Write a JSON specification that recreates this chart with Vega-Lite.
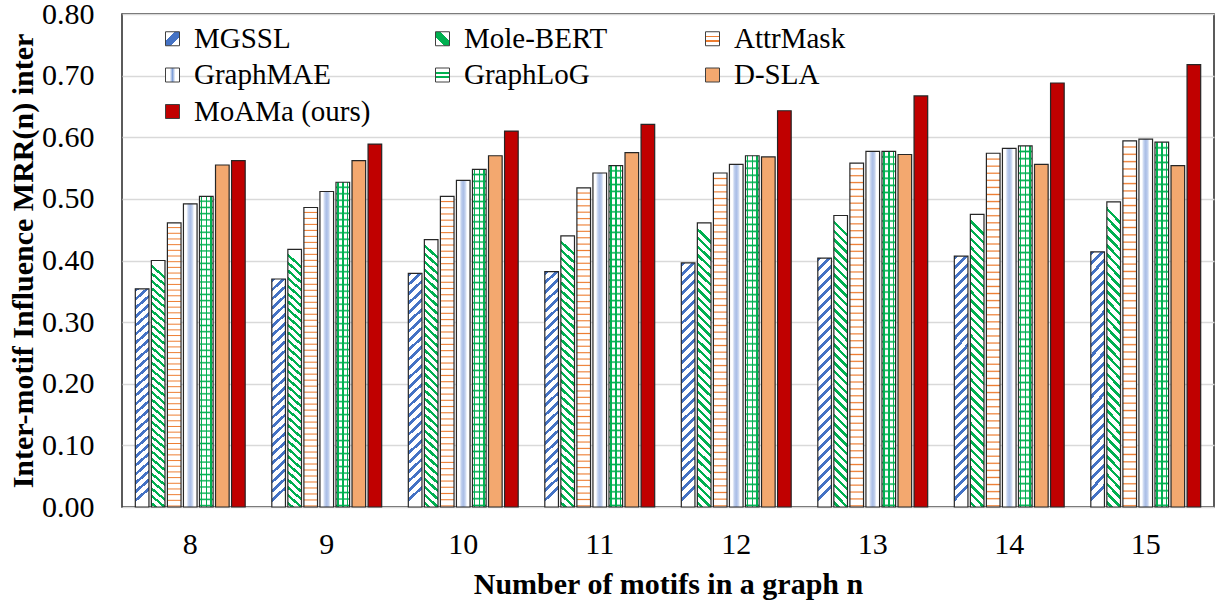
{
  "$schema": "https://vega.github.io/schema/vega-lite/v6.json",
  "width": 1092,
  "height": 493,
  "autosize": {"type": "none"},
  "padding": {"left": 122, "top": 14, "right": 5, "bottom": 96},
  "background": "white",
  "config": {
    "font": "Liberation Serif",
    "view": {"stroke": "#262626", "strokeWidth": 1.5},
    "axis": {"labelColor": "#000", "titleColor": "#000", "labelFont": "Liberation Serif", "titleFont": "Liberation Serif"},
    "legend": {"labelFont": "Liberation Serif", "titleFont": "Liberation Serif"}
  },
  "data": {"values": [
    {"n": 8, "method": "MGSSL", "v": 0.354}, {"n": 8, "method": "Mole-BERT", "v": 0.400}, {"n": 8, "method": "AttrMask", "v": 0.461}, {"n": 8, "method": "GraphMAE", "v": 0.492}, {"n": 8, "method": "GraphLoG", "v": 0.504}, {"n": 8, "method": "D-SLA", "v": 0.555}, {"n": 8, "method": "MoAMa (ours)", "v": 0.562},
    {"n": 9, "method": "MGSSL", "v": 0.370}, {"n": 9, "method": "Mole-BERT", "v": 0.418}, {"n": 9, "method": "AttrMask", "v": 0.486}, {"n": 9, "method": "GraphMAE", "v": 0.512}, {"n": 9, "method": "GraphLoG", "v": 0.527}, {"n": 9, "method": "D-SLA", "v": 0.562}, {"n": 9, "method": "MoAMa (ours)", "v": 0.589},
    {"n": 10, "method": "MGSSL", "v": 0.379}, {"n": 10, "method": "Mole-BERT", "v": 0.434}, {"n": 10, "method": "AttrMask", "v": 0.504}, {"n": 10, "method": "GraphMAE", "v": 0.530}, {"n": 10, "method": "GraphLoG", "v": 0.548}, {"n": 10, "method": "D-SLA", "v": 0.570}, {"n": 10, "method": "MoAMa (ours)", "v": 0.610},
    {"n": 11, "method": "MGSSL", "v": 0.382}, {"n": 11, "method": "Mole-BERT", "v": 0.440}, {"n": 11, "method": "AttrMask", "v": 0.518}, {"n": 11, "method": "GraphMAE", "v": 0.542}, {"n": 11, "method": "GraphLoG", "v": 0.554}, {"n": 11, "method": "D-SLA", "v": 0.575}, {"n": 11, "method": "MoAMa (ours)", "v": 0.621},
    {"n": 12, "method": "MGSSL", "v": 0.396}, {"n": 12, "method": "Mole-BERT", "v": 0.461}, {"n": 12, "method": "AttrMask", "v": 0.542}, {"n": 12, "method": "GraphMAE", "v": 0.556}, {"n": 12, "method": "GraphLoG", "v": 0.570}, {"n": 12, "method": "D-SLA", "v": 0.568}, {"n": 12, "method": "MoAMa (ours)", "v": 0.643},
    {"n": 13, "method": "MGSSL", "v": 0.404}, {"n": 13, "method": "Mole-BERT", "v": 0.473}, {"n": 13, "method": "AttrMask", "v": 0.558}, {"n": 13, "method": "GraphMAE", "v": 0.577}, {"n": 13, "method": "GraphLoG", "v": 0.577}, {"n": 13, "method": "D-SLA", "v": 0.572}, {"n": 13, "method": "MoAMa (ours)", "v": 0.667},
    {"n": 14, "method": "MGSSL", "v": 0.407}, {"n": 14, "method": "Mole-BERT", "v": 0.475}, {"n": 14, "method": "AttrMask", "v": 0.574}, {"n": 14, "method": "GraphMAE", "v": 0.582}, {"n": 14, "method": "GraphLoG", "v": 0.586}, {"n": 14, "method": "D-SLA", "v": 0.556}, {"n": 14, "method": "MoAMa (ours)", "v": 0.688},
    {"n": 15, "method": "MGSSL", "v": 0.414}, {"n": 15, "method": "Mole-BERT", "v": 0.495}, {"n": 15, "method": "AttrMask", "v": 0.594}, {"n": 15, "method": "GraphMAE", "v": 0.597}, {"n": 15, "method": "GraphLoG", "v": 0.592}, {"n": 15, "method": "D-SLA", "v": 0.554}, {"n": 15, "method": "MoAMa (ours)", "v": 0.718}
  ]},
  "encoding": {
    "x": {"field": "n", "type": "ordinal", "scale": {"paddingInner": 0, "paddingOuter": 0},
      "axis": {"labelAngle": 0, "ticks": false, "domain": false, "grid": false, "labelFont": "Liberation Serif", "titleFont": "Liberation Serif", "labelFontSize": 30, "labelPadding": 22, "title": "Number of motifs in a graph n", "titleFontSize": 30, "titleFontWeight": "bold", "titlePadding": 10}},
    "y": {"field": "v", "type": "quantitative", "scale": {"domain": [0, 0.8]},
      "axis": {"values": [0, 0.1, 0.2, 0.3, 0.4, 0.5, 0.6, 0.7, 0.8], "format": ".2f", "ticks": false, "domain": false, "grid": true, "gridColor": "#D9D9D9", "gridWidth": 1.5, "labelFont": "Liberation Serif", "titleFont": "Liberation Serif", "labelFontSize": 30, "labelPadding": 28, "title": "Inter-motif Influence MRR(n) inter", "titleFontSize": 30, "titleFontWeight": "bold", "titlePadding": 3}},
    "xOffset": {"field": "method", "type": "nominal", "sort": ["MGSSL", "Mole-BERT", "AttrMask", "GraphMAE", "GraphLoG", "D-SLA", "MoAMa (ours)"], "scale": {"paddingInner": 0.15, "paddingOuter": 0.83}}
  },
  "layer": [
    {
      "mark": {"type": "bar", "strokeWidth": 0},
      "encoding": {
        "fill": {
          "field": "method", "type": "nominal",
          "sort": ["MGSSL", "Mole-BERT", "AttrMask", "GraphMAE", "GraphLoG", "D-SLA", "MoAMa (ours)"],
          "scale": {"domain": ["MGSSL", "Mole-BERT", "AttrMask", "GraphMAE", "GraphLoG", "D-SLA", "MoAMa (ours)"], "range": [
            {"expr": "{gradient: 'linear', x1: 0, y1: 0, x2: 1, y2: 1, stops: [{offset: 0, color: '#fff'}, {offset: 0.32, color: '#fff'}, {offset: 0.32, color: '#4472C4'}, {offset: 0.68, color: '#4472C4'}, {offset: 0.68, color: '#fff'}, {offset: 1, color: '#fff'}]}"},
            {"expr": "{gradient: 'linear', x1: 0, y1: 1, x2: 1, y2: 0, stops: [{offset: 0, color: '#fff'}, {offset: 0.32, color: '#fff'}, {offset: 0.32, color: '#00B050'}, {offset: 0.68, color: '#00B050'}, {offset: 0.68, color: '#fff'}, {offset: 1, color: '#fff'}]}"},
            {"expr": "{gradient: 'linear', x1: 0, y1: 0, x2: 0, y2: 1, stops: [{offset: 0, color: '#fff'}, {offset: 0.3, color: '#fff'}, {offset: 0.3, color: '#ED7D31'}, {offset: 0.4, color: '#ED7D31'}, {offset: 0.4, color: '#fff'}, {offset: 0.6, color: '#fff'}, {offset: 0.6, color: '#ED7D31'}, {offset: 0.7, color: '#ED7D31'}, {offset: 0.7, color: '#fff'}, {offset: 1, color: '#fff'}]}"},
            {"expr": "{gradient: 'linear', x1: 0, y1: 0, x2: 1, y2: 0, stops: [{offset: 0, color: '#fff'}, {offset: 0.3, color: '#fff'}, {offset: 0.5, color: '#7F9FD8'}, {offset: 0.7, color: '#fff'}, {offset: 1, color: '#fff'}]}"},
            {"expr": "{gradient: 'linear', x1: 0, y1: 0, x2: 0, y2: 1, stops: [{offset: 0, color: '#fff'}, {offset: 0.3, color: '#fff'}, {offset: 0.3, color: '#00B050'}, {offset: 0.42, color: '#00B050'}, {offset: 0.42, color: '#fff'}, {offset: 0.6, color: '#fff'}, {offset: 0.6, color: '#00B050'}, {offset: 0.72, color: '#00B050'}, {offset: 0.72, color: '#fff'}, {offset: 1, color: '#fff'}]}"},
            "#F3A86F",
            "#C00000"
          ]},
          "legend": {
            "title": null, "orient": "none", "direction": "horizontal", "legendX": 36, "legendY": 10, "columns": 3, "gridAlign": "all",
            "symbolType": "square", "symbolSize": 196, "symbolStrokeColor": "#404040", "symbolStrokeWidth": 1, "symbolOpacity": 1,
            "labelFont": "Liberation Serif", "labelFontSize": 29, "labelColor": "#000", "labelOffset": 7, "labelLimit": 0, "rowPadding": 6.5, "columnPadding": 57, "padding": 0
          },
          "condition": [
            {"test": "datum.method === 'MGSSL'", "value": {"gradient": "linear", "x1": 0, "y1": 0, "x2": 0.055, "y2": 1, "stops": [
              {"offset": 0, "color": "#4472C4"}, {"offset": 0.016, "color": "#4472C4"}, {"offset": 0.016, "color": "#fff"}, {"offset": 0.04, "color": "#fff"},
              {"offset": 0.04, "color": "#4472C4"}, {"offset": 0.056, "color": "#4472C4"}, {"offset": 0.056, "color": "#fff"}, {"offset": 0.08, "color": "#fff"},
              {"offset": 0.08, "color": "#4472C4"}, {"offset": 0.096, "color": "#4472C4"}, {"offset": 0.096, "color": "#fff"}, {"offset": 0.12, "color": "#fff"},
              {"offset": 0.12, "color": "#4472C4"}, {"offset": 0.136, "color": "#4472C4"}, {"offset": 0.136, "color": "#fff"}, {"offset": 0.16, "color": "#fff"},
              {"offset": 0.16, "color": "#4472C4"}, {"offset": 0.176, "color": "#4472C4"}, {"offset": 0.176, "color": "#fff"}, {"offset": 0.2, "color": "#fff"},
              {"offset": 0.2, "color": "#4472C4"}, {"offset": 0.216, "color": "#4472C4"}, {"offset": 0.216, "color": "#fff"}, {"offset": 0.24, "color": "#fff"},
              {"offset": 0.24, "color": "#4472C4"}, {"offset": 0.256, "color": "#4472C4"}, {"offset": 0.256, "color": "#fff"}, {"offset": 0.28, "color": "#fff"},
              {"offset": 0.28, "color": "#4472C4"}, {"offset": 0.296, "color": "#4472C4"}, {"offset": 0.296, "color": "#fff"}, {"offset": 0.32, "color": "#fff"},
              {"offset": 0.32, "color": "#4472C4"}, {"offset": 0.336, "color": "#4472C4"}, {"offset": 0.336, "color": "#fff"}, {"offset": 0.36, "color": "#fff"},
              {"offset": 0.36, "color": "#4472C4"}, {"offset": 0.376, "color": "#4472C4"}, {"offset": 0.376, "color": "#fff"}, {"offset": 0.4, "color": "#fff"},
              {"offset": 0.4, "color": "#4472C4"}, {"offset": 0.416, "color": "#4472C4"}, {"offset": 0.416, "color": "#fff"}, {"offset": 0.44, "color": "#fff"},
              {"offset": 0.44, "color": "#4472C4"}, {"offset": 0.456, "color": "#4472C4"}, {"offset": 0.456, "color": "#fff"}, {"offset": 0.48, "color": "#fff"},
              {"offset": 0.48, "color": "#4472C4"}, {"offset": 0.496, "color": "#4472C4"}, {"offset": 0.496, "color": "#fff"}, {"offset": 0.52, "color": "#fff"},
              {"offset": 0.52, "color": "#4472C4"}, {"offset": 0.536, "color": "#4472C4"}, {"offset": 0.536, "color": "#fff"}, {"offset": 0.56, "color": "#fff"},
              {"offset": 0.56, "color": "#4472C4"}, {"offset": 0.576, "color": "#4472C4"}, {"offset": 0.576, "color": "#fff"}, {"offset": 0.6, "color": "#fff"},
              {"offset": 0.6, "color": "#4472C4"}, {"offset": 0.616, "color": "#4472C4"}, {"offset": 0.616, "color": "#fff"}, {"offset": 0.64, "color": "#fff"},
              {"offset": 0.64, "color": "#4472C4"}, {"offset": 0.656, "color": "#4472C4"}, {"offset": 0.656, "color": "#fff"}, {"offset": 0.68, "color": "#fff"},
              {"offset": 0.68, "color": "#4472C4"}, {"offset": 0.696, "color": "#4472C4"}, {"offset": 0.696, "color": "#fff"}, {"offset": 0.72, "color": "#fff"},
              {"offset": 0.72, "color": "#4472C4"}, {"offset": 0.736, "color": "#4472C4"}, {"offset": 0.736, "color": "#fff"}, {"offset": 0.76, "color": "#fff"},
              {"offset": 0.76, "color": "#4472C4"}, {"offset": 0.776, "color": "#4472C4"}, {"offset": 0.776, "color": "#fff"}, {"offset": 0.8, "color": "#fff"},
              {"offset": 0.8, "color": "#4472C4"}, {"offset": 0.816, "color": "#4472C4"}, {"offset": 0.816, "color": "#fff"}, {"offset": 0.84, "color": "#fff"},
              {"offset": 0.84, "color": "#4472C4"}, {"offset": 0.856, "color": "#4472C4"}, {"offset": 0.856, "color": "#fff"}, {"offset": 0.88, "color": "#fff"},
              {"offset": 0.88, "color": "#4472C4"}, {"offset": 0.896, "color": "#4472C4"}, {"offset": 0.896, "color": "#fff"}, {"offset": 0.92, "color": "#fff"},
              {"offset": 0.92, "color": "#4472C4"}, {"offset": 0.936, "color": "#4472C4"}, {"offset": 0.936, "color": "#fff"}, {"offset": 0.96, "color": "#fff"},
              {"offset": 0.96, "color": "#4472C4"}, {"offset": 0.976, "color": "#4472C4"}, {"offset": 0.976, "color": "#fff"}, {"offset": 1, "color": "#fff"}
            ]}},
            {"test": "datum.method === 'Mole-BERT'", "value": {"gradient": "linear", "x1": 0.047, "y1": 0, "x2": 0, "y2": 1, "stops": [
              {"offset": 0, "color": "#fff"}, {"offset": 0.018, "color": "#fff"}, {"offset": 0.018, "color": "#00B050"}, {"offset": 0.03, "color": "#00B050"},
              {"offset": 0.03, "color": "#fff"}, {"offset": 0.048, "color": "#fff"}, {"offset": 0.048, "color": "#00B050"}, {"offset": 0.06, "color": "#00B050"},
              {"offset": 0.06, "color": "#fff"}, {"offset": 0.078, "color": "#fff"}, {"offset": 0.078, "color": "#00B050"}, {"offset": 0.09, "color": "#00B050"},
              {"offset": 0.09, "color": "#fff"}, {"offset": 0.108, "color": "#fff"}, {"offset": 0.108, "color": "#00B050"}, {"offset": 0.12, "color": "#00B050"},
              {"offset": 0.12, "color": "#fff"}, {"offset": 0.138, "color": "#fff"}, {"offset": 0.138, "color": "#00B050"}, {"offset": 0.15, "color": "#00B050"},
              {"offset": 0.15, "color": "#fff"}, {"offset": 0.168, "color": "#fff"}, {"offset": 0.168, "color": "#00B050"}, {"offset": 0.18, "color": "#00B050"},
              {"offset": 0.18, "color": "#fff"}, {"offset": 0.198, "color": "#fff"}, {"offset": 0.198, "color": "#00B050"}, {"offset": 0.21, "color": "#00B050"},
              {"offset": 0.21, "color": "#fff"}, {"offset": 0.228, "color": "#fff"}, {"offset": 0.228, "color": "#00B050"}, {"offset": 0.24, "color": "#00B050"},
              {"offset": 0.24, "color": "#fff"}, {"offset": 0.258, "color": "#fff"}, {"offset": 0.258, "color": "#00B050"}, {"offset": 0.27, "color": "#00B050"},
              {"offset": 0.27, "color": "#fff"}, {"offset": 0.288, "color": "#fff"}, {"offset": 0.288, "color": "#00B050"}, {"offset": 0.3, "color": "#00B050"},
              {"offset": 0.3, "color": "#fff"}, {"offset": 0.318, "color": "#fff"}, {"offset": 0.318, "color": "#00B050"}, {"offset": 0.33, "color": "#00B050"},
              {"offset": 0.33, "color": "#fff"}, {"offset": 0.348, "color": "#fff"}, {"offset": 0.348, "color": "#00B050"}, {"offset": 0.36, "color": "#00B050"},
              {"offset": 0.36, "color": "#fff"}, {"offset": 0.378, "color": "#fff"}, {"offset": 0.378, "color": "#00B050"}, {"offset": 0.39, "color": "#00B050"},
              {"offset": 0.39, "color": "#fff"}, {"offset": 0.408, "color": "#fff"}, {"offset": 0.408, "color": "#00B050"}, {"offset": 0.42, "color": "#00B050"},
              {"offset": 0.42, "color": "#fff"}, {"offset": 0.438, "color": "#fff"}, {"offset": 0.438, "color": "#00B050"}, {"offset": 0.45, "color": "#00B050"},
              {"offset": 0.45, "color": "#fff"}, {"offset": 0.468, "color": "#fff"}, {"offset": 0.468, "color": "#00B050"}, {"offset": 0.48, "color": "#00B050"},
              {"offset": 0.48, "color": "#fff"}, {"offset": 0.498, "color": "#fff"}, {"offset": 0.498, "color": "#00B050"}, {"offset": 0.51, "color": "#00B050"},
              {"offset": 0.51, "color": "#fff"}, {"offset": 0.528, "color": "#fff"}, {"offset": 0.528, "color": "#00B050"}, {"offset": 0.54, "color": "#00B050"},
              {"offset": 0.54, "color": "#fff"}, {"offset": 0.558, "color": "#fff"}, {"offset": 0.558, "color": "#00B050"}, {"offset": 0.57, "color": "#00B050"},
              {"offset": 0.57, "color": "#fff"}, {"offset": 0.588, "color": "#fff"}, {"offset": 0.588, "color": "#00B050"}, {"offset": 0.6, "color": "#00B050"},
              {"offset": 0.6, "color": "#fff"}, {"offset": 0.618, "color": "#fff"}, {"offset": 0.618, "color": "#00B050"}, {"offset": 0.63, "color": "#00B050"},
              {"offset": 0.63, "color": "#fff"}, {"offset": 0.648, "color": "#fff"}, {"offset": 0.648, "color": "#00B050"}, {"offset": 0.66, "color": "#00B050"},
              {"offset": 0.66, "color": "#fff"}, {"offset": 0.678, "color": "#fff"}, {"offset": 0.678, "color": "#00B050"}, {"offset": 0.69, "color": "#00B050"},
              {"offset": 0.69, "color": "#fff"}, {"offset": 0.708, "color": "#fff"}, {"offset": 0.708, "color": "#00B050"}, {"offset": 0.72, "color": "#00B050"},
              {"offset": 0.72, "color": "#fff"}, {"offset": 0.738, "color": "#fff"}, {"offset": 0.738, "color": "#00B050"}, {"offset": 0.75, "color": "#00B050"},
              {"offset": 0.75, "color": "#fff"}, {"offset": 0.768, "color": "#fff"}, {"offset": 0.768, "color": "#00B050"}, {"offset": 0.78, "color": "#00B050"},
              {"offset": 0.78, "color": "#fff"}, {"offset": 0.798, "color": "#fff"}, {"offset": 0.798, "color": "#00B050"}, {"offset": 0.81, "color": "#00B050"},
              {"offset": 0.81, "color": "#fff"}, {"offset": 0.828, "color": "#fff"}, {"offset": 0.828, "color": "#00B050"}, {"offset": 0.84, "color": "#00B050"},
              {"offset": 0.84, "color": "#fff"}, {"offset": 0.858, "color": "#fff"}, {"offset": 0.858, "color": "#00B050"}, {"offset": 0.87, "color": "#00B050"},
              {"offset": 0.87, "color": "#fff"}, {"offset": 0.888, "color": "#fff"}, {"offset": 0.888, "color": "#00B050"}, {"offset": 0.9, "color": "#00B050"},
              {"offset": 0.9, "color": "#fff"}, {"offset": 0.918, "color": "#fff"}, {"offset": 0.918, "color": "#00B050"}, {"offset": 0.93, "color": "#00B050"},
              {"offset": 0.93, "color": "#fff"}, {"offset": 0.948, "color": "#fff"}, {"offset": 0.948, "color": "#00B050"}, {"offset": 0.96, "color": "#00B050"},
              {"offset": 0.96, "color": "#fff"}, {"offset": 0.978, "color": "#fff"}, {"offset": 0.978, "color": "#00B050"}, {"offset": 0.99, "color": "#00B050"},
              {"offset": 0.99, "color": "#fff"}, {"offset": 1, "color": "#fff"}
            ]}},
            {"test": "datum.method === 'AttrMask'", "value": {"gradient": "linear", "x1": 0, "y1": 0, "x2": 0, "y2": 1, "stops": [
              {"offset": 0, "color": "#fff"},
              {"offset": 0.013, "color": "#fff"}, {"offset": 0.0165, "color": "#ED7D31"}, {"offset": 0.02, "color": "#fff"},
              {"offset": 0.033, "color": "#fff"}, {"offset": 0.0365, "color": "#ED7D31"}, {"offset": 0.04, "color": "#fff"},
              {"offset": 0.053, "color": "#fff"}, {"offset": 0.0565, "color": "#ED7D31"}, {"offset": 0.06, "color": "#fff"},
              {"offset": 0.073, "color": "#fff"}, {"offset": 0.0765, "color": "#ED7D31"}, {"offset": 0.08, "color": "#fff"},
              {"offset": 0.093, "color": "#fff"}, {"offset": 0.0965, "color": "#ED7D31"}, {"offset": 0.1, "color": "#fff"},
              {"offset": 0.113, "color": "#fff"}, {"offset": 0.1165, "color": "#ED7D31"}, {"offset": 0.12, "color": "#fff"},
              {"offset": 0.133, "color": "#fff"}, {"offset": 0.1365, "color": "#ED7D31"}, {"offset": 0.14, "color": "#fff"},
              {"offset": 0.153, "color": "#fff"}, {"offset": 0.1565, "color": "#ED7D31"}, {"offset": 0.16, "color": "#fff"},
              {"offset": 0.173, "color": "#fff"}, {"offset": 0.1765, "color": "#ED7D31"}, {"offset": 0.18, "color": "#fff"},
              {"offset": 0.193, "color": "#fff"}, {"offset": 0.1965, "color": "#ED7D31"}, {"offset": 0.2, "color": "#fff"},
              {"offset": 0.213, "color": "#fff"}, {"offset": 0.2165, "color": "#ED7D31"}, {"offset": 0.22, "color": "#fff"},
              {"offset": 0.233, "color": "#fff"}, {"offset": 0.2365, "color": "#ED7D31"}, {"offset": 0.24, "color": "#fff"},
              {"offset": 0.253, "color": "#fff"}, {"offset": 0.2565, "color": "#ED7D31"}, {"offset": 0.26, "color": "#fff"},
              {"offset": 0.273, "color": "#fff"}, {"offset": 0.2765, "color": "#ED7D31"}, {"offset": 0.28, "color": "#fff"},
              {"offset": 0.293, "color": "#fff"}, {"offset": 0.2965, "color": "#ED7D31"}, {"offset": 0.3, "color": "#fff"},
              {"offset": 0.313, "color": "#fff"}, {"offset": 0.3165, "color": "#ED7D31"}, {"offset": 0.32, "color": "#fff"},
              {"offset": 0.333, "color": "#fff"}, {"offset": 0.3365, "color": "#ED7D31"}, {"offset": 0.34, "color": "#fff"},
              {"offset": 0.353, "color": "#fff"}, {"offset": 0.3565, "color": "#ED7D31"}, {"offset": 0.36, "color": "#fff"},
              {"offset": 0.373, "color": "#fff"}, {"offset": 0.3765, "color": "#ED7D31"}, {"offset": 0.38, "color": "#fff"},
              {"offset": 0.393, "color": "#fff"}, {"offset": 0.3965, "color": "#ED7D31"}, {"offset": 0.4, "color": "#fff"},
              {"offset": 0.413, "color": "#fff"}, {"offset": 0.4165, "color": "#ED7D31"}, {"offset": 0.42, "color": "#fff"},
              {"offset": 0.433, "color": "#fff"}, {"offset": 0.4365, "color": "#ED7D31"}, {"offset": 0.44, "color": "#fff"},
              {"offset": 0.453, "color": "#fff"}, {"offset": 0.4565, "color": "#ED7D31"}, {"offset": 0.46, "color": "#fff"},
              {"offset": 0.473, "color": "#fff"}, {"offset": 0.4765, "color": "#ED7D31"}, {"offset": 0.48, "color": "#fff"},
              {"offset": 0.493, "color": "#fff"}, {"offset": 0.4965, "color": "#ED7D31"}, {"offset": 0.5, "color": "#fff"},
              {"offset": 0.513, "color": "#fff"}, {"offset": 0.5165, "color": "#ED7D31"}, {"offset": 0.52, "color": "#fff"},
              {"offset": 0.533, "color": "#fff"}, {"offset": 0.5365, "color": "#ED7D31"}, {"offset": 0.54, "color": "#fff"},
              {"offset": 0.553, "color": "#fff"}, {"offset": 0.5565, "color": "#ED7D31"}, {"offset": 0.56, "color": "#fff"},
              {"offset": 0.573, "color": "#fff"}, {"offset": 0.5765, "color": "#ED7D31"}, {"offset": 0.58, "color": "#fff"},
              {"offset": 0.593, "color": "#fff"}, {"offset": 0.5965, "color": "#ED7D31"}, {"offset": 0.6, "color": "#fff"},
              {"offset": 0.613, "color": "#fff"}, {"offset": 0.6165, "color": "#ED7D31"}, {"offset": 0.62, "color": "#fff"},
              {"offset": 0.633, "color": "#fff"}, {"offset": 0.6365, "color": "#ED7D31"}, {"offset": 0.64, "color": "#fff"},
              {"offset": 0.653, "color": "#fff"}, {"offset": 0.6565, "color": "#ED7D31"}, {"offset": 0.66, "color": "#fff"},
              {"offset": 0.673, "color": "#fff"}, {"offset": 0.6765, "color": "#ED7D31"}, {"offset": 0.68, "color": "#fff"},
              {"offset": 0.693, "color": "#fff"}, {"offset": 0.6965, "color": "#ED7D31"}, {"offset": 0.7, "color": "#fff"},
              {"offset": 0.713, "color": "#fff"}, {"offset": 0.7165, "color": "#ED7D31"}, {"offset": 0.72, "color": "#fff"},
              {"offset": 0.733, "color": "#fff"}, {"offset": 0.7365, "color": "#ED7D31"}, {"offset": 0.74, "color": "#fff"},
              {"offset": 0.753, "color": "#fff"}, {"offset": 0.7565, "color": "#ED7D31"}, {"offset": 0.76, "color": "#fff"},
              {"offset": 0.773, "color": "#fff"}, {"offset": 0.7765, "color": "#ED7D31"}, {"offset": 0.78, "color": "#fff"},
              {"offset": 0.793, "color": "#fff"}, {"offset": 0.7965, "color": "#ED7D31"}, {"offset": 0.8, "color": "#fff"},
              {"offset": 0.813, "color": "#fff"}, {"offset": 0.8165, "color": "#ED7D31"}, {"offset": 0.82, "color": "#fff"},
              {"offset": 0.833, "color": "#fff"}, {"offset": 0.8365, "color": "#ED7D31"}, {"offset": 0.84, "color": "#fff"},
              {"offset": 0.853, "color": "#fff"}, {"offset": 0.8565, "color": "#ED7D31"}, {"offset": 0.86, "color": "#fff"},
              {"offset": 0.873, "color": "#fff"}, {"offset": 0.8765, "color": "#ED7D31"}, {"offset": 0.88, "color": "#fff"},
              {"offset": 0.893, "color": "#fff"}, {"offset": 0.8965, "color": "#ED7D31"}, {"offset": 0.9, "color": "#fff"},
              {"offset": 0.913, "color": "#fff"}, {"offset": 0.9165, "color": "#ED7D31"}, {"offset": 0.92, "color": "#fff"},
              {"offset": 0.933, "color": "#fff"}, {"offset": 0.9365, "color": "#ED7D31"}, {"offset": 0.94, "color": "#fff"},
              {"offset": 0.953, "color": "#fff"}, {"offset": 0.9565, "color": "#ED7D31"}, {"offset": 0.96, "color": "#fff"},
              {"offset": 0.973, "color": "#fff"}, {"offset": 0.9765, "color": "#ED7D31"}, {"offset": 0.98, "color": "#fff"},
              {"offset": 0.993, "color": "#fff"}, {"offset": 0.9965, "color": "#ED7D31"}, {"offset": 1, "color": "#fff"}
            ]}},
            {"test": "datum.method === 'GraphMAE'", "value": {"gradient": "linear", "x1": 0, "y1": 0, "x2": 1, "y2": 0, "stops": [
              {"offset": 0, "color": "#fff"}, {"offset": 0.22, "color": "#fff"}, {"offset": 0.36, "color": "#C2D1EE"}, {"offset": 0.5, "color": "#A9BDE6"}, {"offset": 0.64, "color": "#C2D1EE"}, {"offset": 0.78, "color": "#fff"}, {"offset": 1, "color": "#fff"}
            ]}},
            {"test": "datum.method === 'GraphLoG'", "value": {"gradient": "linear", "x1": 0, "y1": 0, "x2": 0, "y2": 1, "stops": [
              {"offset": 0, "color": "#fff"},
              {"offset": 0.011, "color": "#fff"}, {"offset": 0.0155, "color": "#00B050"}, {"offset": 0.02, "color": "#fff"},
              {"offset": 0.031, "color": "#fff"}, {"offset": 0.0355, "color": "#00B050"}, {"offset": 0.04, "color": "#fff"},
              {"offset": 0.051, "color": "#fff"}, {"offset": 0.0555, "color": "#00B050"}, {"offset": 0.06, "color": "#fff"},
              {"offset": 0.071, "color": "#fff"}, {"offset": 0.0755, "color": "#00B050"}, {"offset": 0.08, "color": "#fff"},
              {"offset": 0.091, "color": "#fff"}, {"offset": 0.0955, "color": "#00B050"}, {"offset": 0.1, "color": "#fff"},
              {"offset": 0.111, "color": "#fff"}, {"offset": 0.1155, "color": "#00B050"}, {"offset": 0.12, "color": "#fff"},
              {"offset": 0.131, "color": "#fff"}, {"offset": 0.1355, "color": "#00B050"}, {"offset": 0.14, "color": "#fff"},
              {"offset": 0.151, "color": "#fff"}, {"offset": 0.1555, "color": "#00B050"}, {"offset": 0.16, "color": "#fff"},
              {"offset": 0.171, "color": "#fff"}, {"offset": 0.1755, "color": "#00B050"}, {"offset": 0.18, "color": "#fff"},
              {"offset": 0.191, "color": "#fff"}, {"offset": 0.1955, "color": "#00B050"}, {"offset": 0.2, "color": "#fff"},
              {"offset": 0.211, "color": "#fff"}, {"offset": 0.2155, "color": "#00B050"}, {"offset": 0.22, "color": "#fff"},
              {"offset": 0.231, "color": "#fff"}, {"offset": 0.2355, "color": "#00B050"}, {"offset": 0.24, "color": "#fff"},
              {"offset": 0.251, "color": "#fff"}, {"offset": 0.2555, "color": "#00B050"}, {"offset": 0.26, "color": "#fff"},
              {"offset": 0.271, "color": "#fff"}, {"offset": 0.2755, "color": "#00B050"}, {"offset": 0.28, "color": "#fff"},
              {"offset": 0.291, "color": "#fff"}, {"offset": 0.2955, "color": "#00B050"}, {"offset": 0.3, "color": "#fff"},
              {"offset": 0.311, "color": "#fff"}, {"offset": 0.3155, "color": "#00B050"}, {"offset": 0.32, "color": "#fff"},
              {"offset": 0.331, "color": "#fff"}, {"offset": 0.3355, "color": "#00B050"}, {"offset": 0.34, "color": "#fff"},
              {"offset": 0.351, "color": "#fff"}, {"offset": 0.3555, "color": "#00B050"}, {"offset": 0.36, "color": "#fff"},
              {"offset": 0.371, "color": "#fff"}, {"offset": 0.3755, "color": "#00B050"}, {"offset": 0.38, "color": "#fff"},
              {"offset": 0.391, "color": "#fff"}, {"offset": 0.3955, "color": "#00B050"}, {"offset": 0.4, "color": "#fff"},
              {"offset": 0.411, "color": "#fff"}, {"offset": 0.4155, "color": "#00B050"}, {"offset": 0.42, "color": "#fff"},
              {"offset": 0.431, "color": "#fff"}, {"offset": 0.4355, "color": "#00B050"}, {"offset": 0.44, "color": "#fff"},
              {"offset": 0.451, "color": "#fff"}, {"offset": 0.4555, "color": "#00B050"}, {"offset": 0.46, "color": "#fff"},
              {"offset": 0.471, "color": "#fff"}, {"offset": 0.4755, "color": "#00B050"}, {"offset": 0.48, "color": "#fff"},
              {"offset": 0.491, "color": "#fff"}, {"offset": 0.4955, "color": "#00B050"}, {"offset": 0.5, "color": "#fff"},
              {"offset": 0.511, "color": "#fff"}, {"offset": 0.5155, "color": "#00B050"}, {"offset": 0.52, "color": "#fff"},
              {"offset": 0.531, "color": "#fff"}, {"offset": 0.5355, "color": "#00B050"}, {"offset": 0.54, "color": "#fff"},
              {"offset": 0.551, "color": "#fff"}, {"offset": 0.5555, "color": "#00B050"}, {"offset": 0.56, "color": "#fff"},
              {"offset": 0.571, "color": "#fff"}, {"offset": 0.5755, "color": "#00B050"}, {"offset": 0.58, "color": "#fff"},
              {"offset": 0.591, "color": "#fff"}, {"offset": 0.5955, "color": "#00B050"}, {"offset": 0.6, "color": "#fff"},
              {"offset": 0.611, "color": "#fff"}, {"offset": 0.6155, "color": "#00B050"}, {"offset": 0.62, "color": "#fff"},
              {"offset": 0.631, "color": "#fff"}, {"offset": 0.6355, "color": "#00B050"}, {"offset": 0.64, "color": "#fff"},
              {"offset": 0.651, "color": "#fff"}, {"offset": 0.6555, "color": "#00B050"}, {"offset": 0.66, "color": "#fff"},
              {"offset": 0.671, "color": "#fff"}, {"offset": 0.6755, "color": "#00B050"}, {"offset": 0.68, "color": "#fff"},
              {"offset": 0.691, "color": "#fff"}, {"offset": 0.6955, "color": "#00B050"}, {"offset": 0.7, "color": "#fff"},
              {"offset": 0.711, "color": "#fff"}, {"offset": 0.7155, "color": "#00B050"}, {"offset": 0.72, "color": "#fff"},
              {"offset": 0.731, "color": "#fff"}, {"offset": 0.7355, "color": "#00B050"}, {"offset": 0.74, "color": "#fff"},
              {"offset": 0.751, "color": "#fff"}, {"offset": 0.7555, "color": "#00B050"}, {"offset": 0.76, "color": "#fff"},
              {"offset": 0.771, "color": "#fff"}, {"offset": 0.7755, "color": "#00B050"}, {"offset": 0.78, "color": "#fff"},
              {"offset": 0.791, "color": "#fff"}, {"offset": 0.7955, "color": "#00B050"}, {"offset": 0.8, "color": "#fff"},
              {"offset": 0.811, "color": "#fff"}, {"offset": 0.8155, "color": "#00B050"}, {"offset": 0.82, "color": "#fff"},
              {"offset": 0.831, "color": "#fff"}, {"offset": 0.8355, "color": "#00B050"}, {"offset": 0.84, "color": "#fff"},
              {"offset": 0.851, "color": "#fff"}, {"offset": 0.8555, "color": "#00B050"}, {"offset": 0.86, "color": "#fff"},
              {"offset": 0.871, "color": "#fff"}, {"offset": 0.8755, "color": "#00B050"}, {"offset": 0.88, "color": "#fff"},
              {"offset": 0.891, "color": "#fff"}, {"offset": 0.8955, "color": "#00B050"}, {"offset": 0.9, "color": "#fff"},
              {"offset": 0.911, "color": "#fff"}, {"offset": 0.9155, "color": "#00B050"}, {"offset": 0.92, "color": "#fff"},
              {"offset": 0.931, "color": "#fff"}, {"offset": 0.9355, "color": "#00B050"}, {"offset": 0.94, "color": "#fff"},
              {"offset": 0.951, "color": "#fff"}, {"offset": 0.9555, "color": "#00B050"}, {"offset": 0.96, "color": "#fff"},
              {"offset": 0.971, "color": "#fff"}, {"offset": 0.9755, "color": "#00B050"}, {"offset": 0.98, "color": "#fff"},
              {"offset": 0.991, "color": "#fff"}, {"offset": 0.9955, "color": "#00B050"}, {"offset": 1, "color": "#fff"}
            ]}}
          ]
        }
      }
    },
    {
      "mark": {"type": "bar", "stroke": "#262626", "strokeWidth": 1.2},
      "encoding": {
        "fill": {
          "condition": {"test": "datum.method === 'GraphLoG'", "value": {"gradient": "linear", "x1": 0, "y1": 0, "x2": 1, "y2": 0, "stops": [
            {"offset": 0, "color": "rgba(0,176,80,0)"}, {"offset": 0.1, "color": "rgba(0,176,80,0)"}, {"offset": 0.1, "color": "#00B050"}, {"offset": 0.21, "color": "#00B050"}, {"offset": 0.21, "color": "rgba(0,176,80,0)"},
            {"offset": 0.445, "color": "rgba(0,176,80,0)"}, {"offset": 0.445, "color": "#00B050"}, {"offset": 0.555, "color": "#00B050"}, {"offset": 0.555, "color": "rgba(0,176,80,0)"},
            {"offset": 0.79, "color": "rgba(0,176,80,0)"}, {"offset": 0.79, "color": "#00B050"}, {"offset": 0.9, "color": "#00B050"}, {"offset": 0.9, "color": "rgba(0,176,80,0)"}, {"offset": 1, "color": "rgba(0,176,80,0)"}
          ]}},
          "value": "transparent"
        }
      }
    }
  ]
}
